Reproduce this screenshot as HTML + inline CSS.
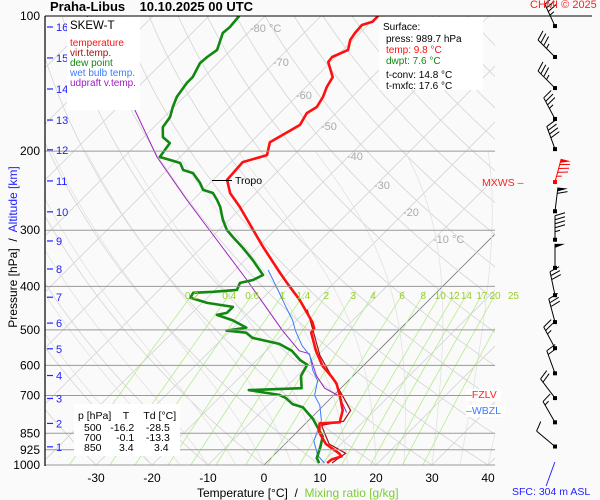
<!DOCTYPE html>
<html><head><meta charset="utf-8"><style>
body{margin:0;background:#fafafa}
svg{display:block;font-family:"Liberation Sans",sans-serif}
.r{white-space:pre;display:block}
</style></head><body>
<svg id="c" width="600" height="500" viewBox="0 0 600 500" xmlns="http://www.w3.org/2000/svg">
<rect width="600" height="500" fill="#fafafa"/>
<defs><clipPath id="clip"><rect x="45" y="16" width="450" height="449"/></clipPath></defs>
<g id="grid" clip-path="url(#clip)"></g>
<g id="series" clip-path="url(#clip)"></g>
<g id="axes"></g>
</svg>
<script>
const tempP=[100,103,104.7,109.1,113.1,119,123.4,126.6,136.8,143.9,151.4,159.5,164.5,174.8,191,204.1,211.5,231.8,248,266.2,299.6,326.9,373.6,393.1,429.7,481.3,496.8,507.4,556.8,600.9,638.9,658.5,699.7,755.6,803.5,807.7,847.1,898,941.8,956.9,972.3,989.7];
const tempT=[-59.8,-59.8,-61.1,-60.9,-60.5,-59.1,-60.7,-60.5,-57,-56.3,-55.2,-54.5,-55.2,-54.3,-56.6,-54.8,-57.9,-57.5,-54.6,-50.4,-43.9,-39.1,-31.4,-28.4,-23,-16.8,-15.4,-15.2,-11.1,-7.3,-3.4,-1.6,1.1,4.3,5.9,2.5,4.1,7.3,11.3,12.3,11.1,10.9];
const dewP=[100,105.8,109.1,119,123.4,127.3,136.8,141,151.4,159.5,168,176.8,186.1,191.9,206.1,209.2,212.5,220.3,223.8,235.4,244,247.8,256.9,266.2,284.6,299.6,310.5,328.6,349.6,377.5,387.2,393.1,407.3,411.4,413.5,424.2,435.4,444.4,458.4,463.2,476.4,494.2,501.9,507.4,520.8,537.4,556.8,583.8,597.9,633.2,674.4,681,698,708.1,732.6,743.5,789.6,864,910.4,965.5,989.7];
const dewT=[-84.6,-84.3,-84.5,-82.5,-83,-83.2,-82,-82,-81.3,-80.2,-78.9,-78.4,-76.6,-74.3,-73.6,-71.3,-68.9,-67.1,-64.8,-61.8,-60,-57.7,-55.7,-53.9,-51.1,-48.6,-46.3,-42.5,-38.6,-34.1,-35,-36.8,-36.1,-40,-43.4,-43,-39.1,-33.8,-33.8,-35.2,-31.4,-27.7,-30.7,-26.8,-24.8,-18.9,-15.4,-12.3,-10.2,-9.3,-7,-16.1,-9.8,-8.2,-5.7,-3.4,0.5,5.4,6.8,8.2,9.5];
const wetP=[367.8,407.3,440.4,476.4,501.9,542.3,569.9,615.3,648.6,699.7,736.3,795.9,883.9,952.4,989.7];
const wetT=[-34.1,-28.8,-24.8,-20.7,-18.4,-14.5,-11.4,-8.2,-5.5,-3.4,-0.7,2.3,4.6,7.9,10.4];
const virtP=[451,569.9,717.3,755.6,799.3,816,847.1,898,941.8,972.3,989.7];
const virtT=[-20,-9.6,2.9,5.7,6.4,3.2,5,7.9,12.5,12,11.8];
const parcelP=[100,148.5,206.1,256.9,328.6,387.2,501.9,556.8,565.2,632.4,674.4,702,764.4];
const parcelT=[-111.8,-90.9,-74.1,-61.1,-46.1,-36.1,-20.7,-14.1,-11.8,-6.6,-2.9,1.1,5.4];
const pressureTicks=[100,200,300,400,500,600,700,850,925,1000];
const tempTicks=[-30,-20,-10,0,10,20,30,40];
const mixRatios=[0.2,0.4,0.6,1,1.4,2,3,4,6,8,10,12,14,17,20,25];
const mixLabels=["0.2","0.4","0.6","1","1.4","2","3","4","6","8","10","12","14","17","20","25"];
const altKm=[1,2,3,4,5,6,7,8,9,10,11,12,13,14,15,16];
const altP=[911,808,711,632,551,483,423,366,317,273,233,198.6,170.5,145.4,124,105.8];
const windP=[105.3,123.4,144.7,169.6,197.9,234.3,272.2,315,363.9,418.6,480.5,549.3,624.9,709.6,803.5,909.6];
const windSpd=[35,35,35,35,40,85,60,45,50,30,30,25,20,20,15,10];
const windDir=[335,315,315,332,340,15,7,0,0,348,345,332,340,323,330,310];

const NS='http://www.w3.org/2000/svg';
const yOf=p=>16+449*Math.log10(p/100);
const xOf=(T,p)=>264+5.6*T+(465-yOf(p));
function mk(parent,tag,attrs,text){const e=document.createElementNS(NS,tag);for(const k in attrs)e.setAttribute(k,attrs[k]);if(text!==undefined)e.textContent=text;parent.appendChild(e);return e;}
const G=document.getElementById('grid'),S=document.getElementById('series'),A=document.getElementById('axes');
const pts=(P,T)=>P.map((p,i)=>xOf(T[i],p).toFixed(1)+','+yOf(p).toFixed(1)).join(' ');

for(let t=-160;t<=50;t+=10){
  const l=mk(G,'line',{x1:xOf(t,1000),y1:yOf(1000),x2:xOf(t,100),y2:yOf(100),stroke:t===0?'#777':'#d4d4d4','stroke-width':0.8});
  
  
}
for(let th=-40;th<=220;th+=10){
  const P=[],T=[];for(let p=1000;p>=100;p-=10){P.push(p);T.push((th+273.15)*Math.pow(p/1000,0.286)-273.15);}
  const l=mk(G,'polyline',{points:pts(P,T),fill:'none',stroke:'#d4d4d4','stroke-width':0.8});
  
  
}
function es(T){return 6.112*Math.exp(17.67*T/(T+243.5));}
for(let t0=-20;t0<=40;t0+=5){
  const P=[],T=[];let T1=t0;
  for(let p=1000;p>=200;p-=5){P.push(p);T.push(T1);
    const Tk=T1+273.15,rs=0.622*es(T1)/(p-es(T1));
    const g=(287*Tk+2.5e6*rs)/(1004+2.5e6*2.5e6*rs*0.622/(287*Tk*Tk))/p;
    T1-=g*5;}
  const l=mk(G,'polyline',{points:pts(P,T),fill:'none',stroke:'#e2e2e2','stroke-width':0.8});
  
  
}
function tdOf(w,p){const e=w*p/(622+w);const a=Math.log(e/6.112);return 243.5*a/(17.67-a);}
mixRatios.forEach((w,i)=>{
  const P=[],T=[];for(let p=1000;p>=407;p-=10){P.push(p);T.push(tdOf(w,p));}
  const l=mk(G,'polyline',{points:pts(P,T),fill:'none',stroke:'#b5ec8c','stroke-width':0.8});
  
  
  const t=mk(A,'text',{x:xOf(tdOf(w,418),418),y:299,'font-size':10,fill:'#9acd32','text-anchor':'middle'},mixLabels[i]);
  
  
});
pressureTicks.forEach(p=>{
  const l=mk(A,'line',{x1:45,x2:p===100?592:495,y1:yOf(p),y2:yOf(p),stroke:p===100?'#000':'#999','stroke-width':1});
  
  
  const t=mk(A,'text',{x:40,y:yOf(p)+4,'font-size':12,'text-anchor':'end',fill:'#000'},String(p));
  
  
});
function line(P,T,col,w,name){const l=mk(S,'polyline',{points:pts(P,T),fill:'none',stroke:col,'stroke-width':w,'stroke-linejoin':'round'});}
line(parcelP,parcelT,'#a020c0',1,'updraft-virtual-temperature-line');
line(wetP,wetT,'#3c7cff',1,'wet-bulb-line');
line(dewP,dewT,'#118811',2.6,'dew-point-line');
line(virtP,virtT,'#a01010',1.2,'virtual-temperature-line');
line(tempP,tempT,'#ff1010',2.6,'temperature-line');

[['-80 °C',250,32],['-70',273,66],['-60',296,99],['-50',321,130],['-40',347,160],['-30',374,189],['-20',403,216],['-10 °C',433,243]].forEach(a=>{
  const t=mk(A,'text',{x:a[1],y:a[2],'font-size':11,fill:'#aaa'},a[0]);
  
  
});
const ax=mk(A,'line',{x1:45,y1:16,x2:45,y2:466,stroke:'#000','stroke-width':1.2});


altKm.forEach((k,i)=>{
  const y=yOf(altP[i]);
  const l=mk(A,'line',{x1:47,x2:53,y1:y,y2:y,stroke:'#2222ff','stroke-width':1.2});
  
  
  const t=mk(A,'text',{x:56,y:y+4,'font-size':11,fill:'#2222ff'},String(k));
  
  
});
tempTicks.forEach(t0=>{
  const t=mk(A,'text',{x:xOf(t0,1000),y:482,'font-size':12,'text-anchor':'middle',fill:'#000'},String(t0));
  
  
});
windP.forEach((p,i)=>{
  const y=yOf(p);
  const x=555,L=24,col=i===5?'#ff0000':'#000';
  const a=windDir[i]*Math.PI/180,dy=-Math.cos(a)*L;
  const sx=Math.sin(a)*L;
  const g=mk(A,'g',{});
  
  
  const tx=x+sx,ty=y+dy;
  mk(g,'line',{x1:x,y1:y,x2:tx,y2:ty,stroke:col,'stroke-width':1});
  mk(g,'rect',{x:x-2,y:y-2,width:4,height:4,fill:col});
  let s=windSpd[i],k=0;const ux=sx/L,uy=dy/L;const px=-uy,py=ux;
  while(s>=50){const bx=tx-ux*k*4,by=ty-uy*k*4;mk(g,'polygon',{points:`${bx},${by} ${bx+px*10},${by+py*10} ${bx-ux*4},${by-uy*4}`,fill:col});s-=50;k+=1.5;}
  while(s>=10){const bx=tx-ux*k*4,by=ty-uy*k*4;mk(g,'line',{x1:bx,y1:by,x2:bx+px*10+ux*3,y2:by+py*10+uy*3,stroke:col,'stroke-width':1});s-=10;k++;}
  if(s>=5){const bx=tx-ux*k*4,by=ty-uy*k*4;mk(g,'line',{x1:bx,y1:by,x2:bx+px*5+ux*1.5,y2:by+py*5+uy*1.5,stroke:col,'stroke-width':1});}
});
</script>
<div style="position:absolute;left:0;top:0;width:600px;height:500px;pointer-events:none;font-family:'Liberation Sans',sans-serif">
<div style="position:absolute;left:50px;top:-1px;font-size:13px;font-weight:bold;white-space:pre">Praha-Libus    10.10.2025 00 UTC</div>
<div style="position:absolute;left:530px;top:-1px;font-size:11px;color:#ff2020">CHMI © 2025</div>
<div style="position:absolute;left:67px;top:17px;width:73px;height:93px;background:#fff;font-size:10px;line-height:10px">
<div style="font-size:11.5px;margin:4px 0 8px 3px">SKEW-T</div>
<div style="color:#ff1010;margin-left:3px">temperature</div>
<div style="color:#a01010;margin-left:3px">virt.temp.</div>
<div style="color:#118811;margin-left:3px">dew point</div>
<div style="color:#3c7cff;margin-left:3px">wet bulb temp.</div>
<div style="color:#a020c0;margin-left:3px">udpraft v.temp.</div>
</div>
<div style="position:absolute;left:379px;top:17px;width:104px;height:73px;background:#fff;font-size:10px;line-height:11px">
<span class="r" style="margin:5px 0 1px 4px">Surface:</span>
<span class="r" style="margin-left:7px">press: 989.7 hPa</span>
<span class="r" style="margin-left:7px;color:#ff1010">temp: 9.8 °C</span>
<span class="r" style="margin-left:7px;color:#118811;margin-bottom:3px">dwpt: 7.6 °C</span>
<span class="r" style="margin-left:7px">t-conv: 14.8 °C</span>
<span class="r" style="margin-left:7px">t-mxfc: 17.6 °C</span>
</div>
<div style="position:absolute;left:74px;top:404px;width:106px;height:52px;background:#fff;font-size:10.5px;line-height:10px">
<span class="r" style="margin:7px 0 2px 4px">p [hPa]    T     Td [°C]</span>
<span class="r" style="margin-left:10px">500   -16.2    -28.5</span>
<span class="r" style="margin-left:10px">700     -0.1    -13.3</span>
<span class="r" style="margin-left:10px">850      3.4       3.4</span>
</div>
<div style="position:absolute;left:212px;top:180px;width:20px;border-top:1px solid #000"></div>
<div style="position:absolute;left:235px;top:175px;font-size:10.5px">Tropo</div>
<div style="position:absolute;left:482px;top:177px;font-size:10.5px;color:#ff2020">MXWS –</div>
<div style="position:absolute;left:466px;top:389px;font-size:10.5px;color:#ff2020;background:#fff;padding-right:4px">–FZLV</div>
<div style="position:absolute;left:466px;top:405px;font-size:10.5px;color:#3c7cff;background:#fff;padding-right:4px">–WBZL</div>
<div style="position:absolute;left:512px;top:486px;font-size:10.5px;color:#2222ff">SFC: 304 m ASL</div>
<div style="position:absolute;left:550px;top:462px;width:1px;height:24px;background:#2222ff;transform:skewX(-20deg)"></div>
<div style="position:absolute;left:197px;top:486px;font-size:12px;white-space:pre">Temperature [°C]  /  <span style="color:#7ccd32">Mixing ratio [g/kg]</span></div>
<div style="position:absolute;left:-82px;top:240px;width:190px;font-size:12px;transform:rotate(-90deg);white-space:pre;text-align:center">Pressure [hPa]  /  <span style="color:#2222ff">Altitude [km]</span></div>
</div>
</body></html>
